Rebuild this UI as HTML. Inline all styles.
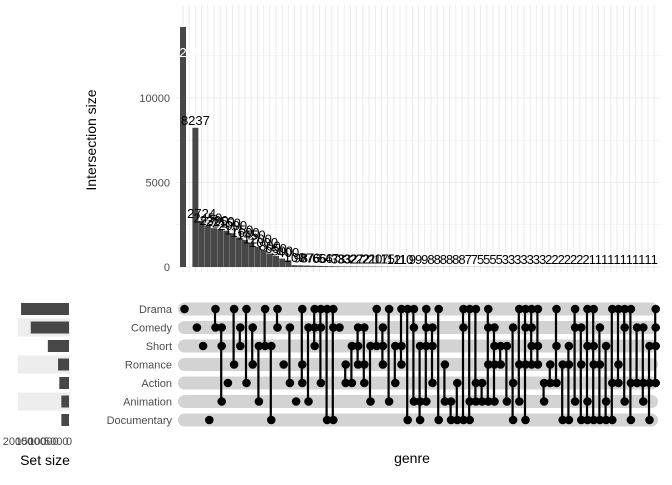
<!DOCTYPE html>
<html><head><meta charset="utf-8"><style>
body{margin:0;background:#fff;font-family:"Liberation Sans",sans-serif}
svg text{font-family:"Liberation Sans",sans-serif}
</style></head><body>
<svg id="chart" width="672" height="480" viewBox="0 0 672 480" xmlns="http://www.w3.org/2000/svg"></svg>
<script>
const sets = ["Drama","Comedy","Short","Romance","Action","Animation","Documentary"];
const setSizes = [18800,15000,8300,4300,3800,3000,3000];
const setTicks = [20000,15000,10000,5000,0];
const yTicks = [0,5000,10000];
const values = [14200,0,8237,2724,2450,2300,2250,2150,2000,1750,1600,1450,1200,1000,800,650,500,400,
109,98,87,76,66,56,47,38,33,32,27,22,21,20,17,15,12,11,10,9,9,9,8,8,8,8,8,8,7,7,5,5,5,5,3,3,3,3,3,3,3,2,2,2,2,2,2,2,1,1,1,1,1,1,1,1,1,1,1];
const members = ["D","","C","S","O","DC","CSN","A","DR","CS","DA","CR","SN","DS","SO","DC","R","CA","N","DRA","CN","DCS","DCA","DO","DCO","C","RA","SA","CSR","CRA","SN","DS","CSR","DN","SA","DSR","DO","DCN","SNO",
"DCSN","CSA","DO","RN","NO","AO","DCO","DNO","DAN","AN","DCRN","CSRN","SR","SN","CAO","DRN","DCRO","DCSR","DSR","AN","RA","DSA","RO","SRO","DCN","CRO","DSNO","DSRO","CRO","SNO","DAO","DRA","DCN","DAO","CA","CAN","SAO","DCSA"];
const codeRow = {D:0,C:1,S:2,R:3,A:4,N:5,O:6};

const svg = document.getElementById('chart');
const NS = "http://www.w3.org/2000/svg";
function mk(tag, attrs, parent){const e=document.createElementNS(NS,tag);for(const k in attrs)e.setAttribute(k,attrs[k]);(parent||svg).appendChild(e);return e;}
const colX = i => 183 + i*6.2;
const yScale = v => 267 - v*(169/10000);
const rowY = r => 309 + r*18.5;
const setX = v => 69 - v*(51/20000);

// gridlines top
for(let i=0;i<values.length;i++){const l=mk('line',{x1:colX(i),x2:colX(i),y1:5,y2:272,stroke:'#ebebeb','stroke-width':1});

}
[0,2500,5000,7500,10000,12500].forEach(v=>{const l=mk('line',{x1:176,x2:660,y1:yScale(v),y2:yScale(v),stroke:'#ebebeb','stroke-width':v%5000?0.6:1.1});

});
yTicks.forEach(v=>{const t=mk('text',{x:170,y:yScale(v)+4,'text-anchor':'end','font-size':11,fill:'#4d4d4d'});t.textContent=v;

});
const yt=mk('text',{x:0,y:0,transform:'translate(96,140) rotate(-90)','text-anchor':'middle','font-size':14,fill:'#000'});yt.textContent='Intersection size';



// bars
values.forEach((v,i)=>{if(v<=0)return;
 const b=mk('rect',{x:colX(i)-3,y:yScale(v),width:6,height:267-yScale(v),fill:'#474747'});
 
 
 const t=mk('text',{x:colX(i),y:(i===0?57:yScale(v)-3),'text-anchor':'middle','font-size':13,fill:i===0?'#fff':'#000'});t.textContent=v;
 
 });

// matrix bands
sets.forEach((s,r)=>{
 const band=mk('rect',{x:178,y:rowY(r)-6.5,width:480,height:13,rx:6.5,fill:'#d3d3d3'});
 
 
 if(r%2===1){const st=mk('rect',{x:18,y:rowY(r)-9,width:52,height:18,fill:'#ededed'});
 
 }
 const lb=mk('text',{x:172,y:rowY(r)+4,'text-anchor':'end','font-size':11,fill:'#4d4d4d'});lb.textContent=s;
 
 
 const sb=mk('rect',{x:setX(setSizes[r]),y:rowY(r)-6,width:69-setX(setSizes[r]),height:12,fill:'#474747'});
 
 
});
// matrix dots
members.forEach((m,i)=>{
 const rows=m.split('').map(c=>codeRow[c]);
 if(rows.length>1){const ln=mk('line',{x1:colX(i)+1,x2:colX(i)+1,y1:rowY(Math.min(...rows)),y2:rowY(Math.max(...rows)),stroke:'#000','stroke-width':2.2});
 
 }
 rows.forEach(r=>{const c=mk('circle',{cx:colX(i)+1.5,cy:rowY(r),r:4.3,fill:'#000'});
 
 });
});
setTicks.forEach(v=>{const t=mk('text',{x:setX(v),y:445,'text-anchor':'middle','font-size':11,fill:'#4d4d4d'});t.textContent=v;

});
const st=mk('text',{x:45,y:465,'text-anchor':'middle','font-size':14,fill:'#000'});st.textContent='Set size';


const gt=mk('text',{x:412,y:463,'text-anchor':'middle','font-size':14,fill:'#000'});gt.textContent='genre';


</script>
</body></html>
